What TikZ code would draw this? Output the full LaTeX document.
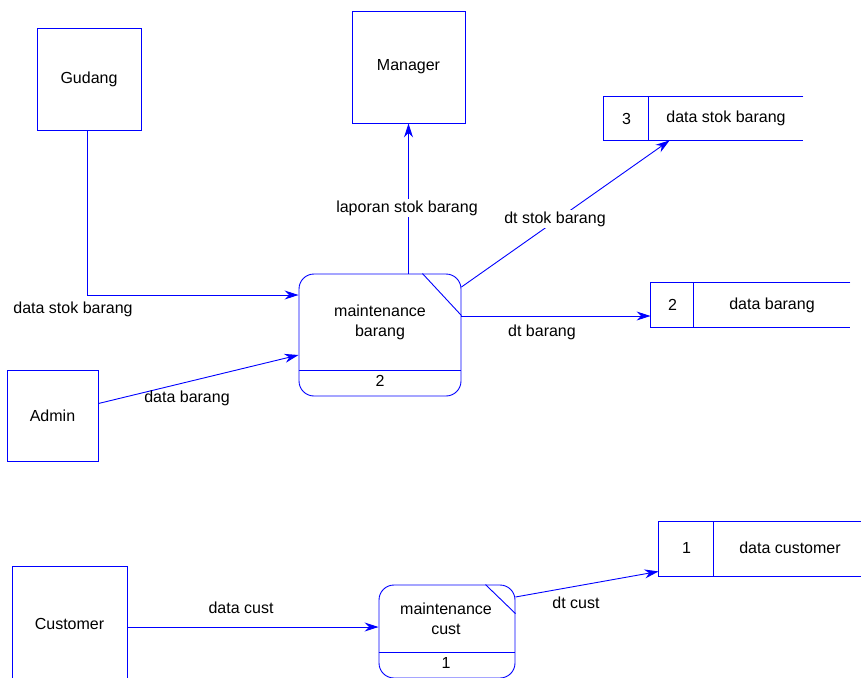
\documentclass[tikz,border=0pt]{standalone}
\usepackage{fontspec}
\setmainfont{Liberation Sans}
\usetikzlibrary{arrows.meta}

\begin{document}
\begin{tikzpicture}[x=1pt,y=-1pt,line width=0.9pt,draw=blue,>={Stealth[length=14pt,width=9pt]},font=\fontsize{16}{20}\selectfont]
    \tikzstyle{entity}=[draw=blue,rectangle,inner sep=0pt]
    \tikzstyle{process}=[draw=blue,rectangle,rounded corners=15pt,inner sep=0pt]
    \tikzstyle{store}=[rectangle,inner sep=0pt]
    \tikzstyle{flow}=[->,draw=blue]
    \tikzstyle{flowtext}=[fill=white,inner sep=2pt]

    \useasboundingbox (0,0) rectangle (861,677);

    % Draw the external entities
    \node[entity,minimum width=104pt,minimum height=102pt] (gudang) at (89,79) {Gudang};
    \node[entity,minimum width=113pt,minimum height=112pt] (manager) at (408.5,67) {Manager};
    \node[entity,minimum width=91pt,minimum height=91pt] (admin) at (52.5,415.5) {Admin};
    \node[entity,minimum width=115pt,minimum height=115pt] (customer) at (69.5,623.5) {Customer};

    % Draw the processes
    \node[process,minimum width=162pt,minimum height=122pt] (P-2) at (380,335) {};
    \draw ([yshift=26pt]P-2.south west) -- ([yshift=26pt]P-2.south east);
    \draw ([xshift=-39pt]P-2.north east) -- ([yshift=-42pt]P-2.north east);
    \node[align=center] (P-2-name) at (380,322) {maintenance\\barang};
    \node (P-2-id) at (380,381) {2};

    \node[process,minimum width=136pt,minimum height=93pt] (P-1) at (447,631.5) {};
    \draw ([yshift=26pt]P-1.south west) -- ([yshift=26pt]P-1.south east);
    \draw ([xshift=-30pt]P-1.north east) -- ([yshift=-29pt]P-1.north east);
    \node[align=center] (P-1-name) at (446,619) {maintenance\\cust};
    \node (P-1-id) at (446,663) {1};

    % Draw the data stores
    \node[store,minimum width=199pt,minimum height=43pt] (D-3) at (703.5,118.5) {};
    \draw (D-3.north east) -- (D-3.north west) -- (D-3.south west) -- (D-3.south east);
    \draw ([xshift=45pt]D-3.north west) -- ([xshift=45pt]D-3.south west);
    \node (D-3-id) at (626.5,118.5) {3};
    \node (D-3-name) at (726,118.5) {data stok barang};

    \node[store,minimum width=199pt,minimum height=44pt] (D-2) at (750.5,305) {};
    \draw (D-2.north east) -- (D-2.north west) -- (D-2.south west) -- (D-2.south east);
    \draw ([xshift=43pt]D-2.north west) -- ([xshift=43pt]D-2.south west);
    \node (D-2-id) at (672.5,305) {2};
    \node (D-2-name) at (772,305) {data barang};

    \node[store,minimum width=204pt,minimum height=54pt] (D-1) at (761,549) {};
    \draw (D-1.north east) -- (D-1.north west) -- (D-1.south west) -- (D-1.south east);
    \draw ([xshift=55pt]D-1.north west) -- ([xshift=55pt]D-1.south west);
    \node (D-1-id) at (686.5,548) {1};
    \node (D-1-name) at (790,548) {data customer};

    % Connect the entities, processes and stores
    \draw[flow] ([xshift=-2pt]gudang.south) |- ([yshift=40pt]P-2.west);
    \node[flowtext] at (73,309) {data stok barang};
    \draw[flow] ([yshift=12pt]admin.east) -- ([yshift=-20pt]P-2.west);
    \node[flowtext,fill=none] at (187,398) {data barang};
    \draw[flow] ([xshift=28pt]P-2.north) -- (P-2.north -| manager.south) -- (manager.south);
    \node[flowtext] at (407,208) {laporan stok barang};
    \draw[flow] ([yshift=48pt]P-2.east) -- ([xshift=66pt]D-3.south west);
    \node[flowtext] at (555,219) {dt stok barang};
    \draw[flow] ([yshift=19pt]P-2.east) -- ([yshift=19pt]P-2.east -| D-2.west);
    \node[flowtext] at (542,332) {dt barang};
    \draw[flow] ([yshift=-3.5pt]customer.east) -- ([yshift=-3.5pt]customer.east -| P-1.west);
    \node[flowtext] at (241,608) {data cust};
    \draw[flow] ([yshift=34.5pt]P-1.east) -- ([yshift=5pt]D-1.south west);
    \node[flowtext] at (576,603) {dt cust};
\end{tikzpicture}
\end{document}
